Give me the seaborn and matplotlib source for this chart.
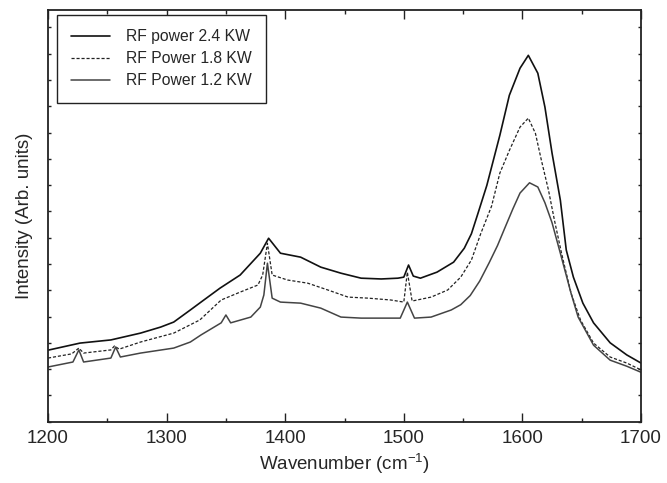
import numpy as np
import pandas as pd
import matplotlib
matplotlib.use('Agg')
import matplotlib.pyplot as plt
import seaborn as sns
from matplotlib.ticker import MultipleLocator

# Raman spectra (intensity in arbitrary units)
wn_24 = [1200, 1227, 1253, 1278, 1295, 1306, 1320, 1329, 1345, 1362, 1379, 1386,
         1396, 1413, 1430, 1447, 1464, 1481, 1495, 1500, 1504, 1508, 1514, 1528,
         1542, 1551, 1557, 1562, 1570, 1581, 1589, 1598, 1605, 1613, 1619, 1625,
         1632, 1637, 1643, 1651, 1660, 1674, 1688, 1700]
int_24 = [2.72, 2.99, 3.11, 3.37, 3.60, 3.79, 4.25, 4.55, 5.08, 5.58, 6.41, 6.98,
          6.41, 6.26, 5.88, 5.65, 5.46, 5.43, 5.46, 5.50, 5.96, 5.54, 5.46, 5.69,
          6.07, 6.60, 7.15, 7.85, 8.99, 10.90, 12.42, 13.45, 13.94, 13.26, 11.97, 10.22,
          8.43, 6.53, 5.50, 4.51, 3.76, 3.00, 2.54, 2.23]

wn_18 = [1200, 1220, 1226, 1230, 1253, 1256, 1260, 1278, 1306, 1328, 1346, 1362,
         1377, 1381, 1385, 1389, 1402, 1419, 1436, 1453, 1470, 1489, 1500, 1503,
         1507, 1523, 1537, 1548, 1557, 1565, 1574, 1581, 1589, 1598, 1605, 1611,
         1616, 1622, 1627, 1633, 1641, 1649, 1660, 1674, 1688, 1700]
int_18 = [2.42, 2.58, 2.80, 2.61, 2.73, 2.88, 2.76, 3.03, 3.37, 3.87, 4.63, 4.93,
          5.20, 5.58, 6.79, 5.58, 5.39, 5.27, 5.01, 4.74, 4.70, 4.63, 4.55, 5.69,
          4.59, 4.74, 5.01, 5.50, 6.15, 7.17, 8.20, 9.46, 10.32, 11.21, 11.55, 10.97,
          9.95, 8.81, 7.67, 6.41, 4.89, 3.87, 2.99, 2.46, 2.23, 1.97]

wn_12 = [1200, 1221, 1226, 1230, 1253, 1257, 1261, 1278, 1306, 1320, 1329, 1346,
         1350, 1354, 1371, 1379, 1382, 1385, 1389, 1396, 1413, 1430, 1447, 1464,
         1481, 1497, 1503, 1509, 1523, 1540, 1548, 1556, 1564, 1572, 1579, 1585,
         1592, 1598, 1606, 1613, 1619, 1625, 1632, 1641, 1647, 1660, 1674, 1688, 1700]
int_12 = [2.08, 2.27, 2.73, 2.27, 2.42, 2.84, 2.46, 2.61, 2.80, 3.03, 3.30, 3.76,
          4.06, 3.76, 3.98, 4.36, 4.82, 6.03, 4.70, 4.55, 4.51, 4.32, 3.98, 3.94,
          3.94, 3.94, 4.55, 3.94, 3.98, 4.25, 4.45, 4.80, 5.35, 6.05, 6.70, 7.35,
          8.10, 8.70, 9.09, 8.93, 8.33, 7.57, 6.41, 4.89, 3.98, 2.91, 2.34, 2.11, 1.88]

labels = ['RF power 2.4 KW', 'RF Power 1.8 KW', 'RF Power 1.2 KW']

sns.set_theme(style='ticks')
plt.rcParams['font.family'] = ['Liberation Sans', 'DejaVu Sans']
plt.rcParams['mathtext.fontset'] = 'custom'
plt.rcParams['mathtext.rm'] = 'Liberation Sans'

fig, ax = plt.subplots(figsize=(6.67, 4.83), dpi=100)
fig.subplots_adjust(left=0.072, right=0.961, bottom=0.127, top=0.979)

sns.lineplot(x=wn_24, y=int_24, ax=ax, color='#111111', lw=1.2, label=labels[0])
sns.lineplot(x=wn_18, y=int_18, ax=ax, color='#222222', lw=0.9,
             linestyle=(0, (2.5, 1.5)), label=labels[1])
sns.lineplot(x=wn_12, y=int_12, ax=ax, color='#444444', lw=1.1, label=labels[2])

ax.set_xlim(1200, 1700)
ax.set_ylim(0, 15.66)
ax.xaxis.set_major_locator(MultipleLocator(100))
ax.xaxis.set_minor_locator(MultipleLocator(50))
ax.yaxis.set_major_locator(MultipleLocator(1))
ax.set_yticklabels([])
ax.tick_params(axis='x', which='major', direction='in', length=6.5, width=1,
               top=True, labelsize=13.5, pad=6, color='#222222')
ax.tick_params(axis='x', which='minor', direction='in', length=3.2, width=1,
               top=True, color='#222222')
ax.tick_params(axis='y', which='major', direction='in', length=2.2, width=1,
               right=True, color='#222222')
for s in ax.spines.values():
    s.set_linewidth(1.3)
    s.set_color('#222222')

ax.set_xlabel('Wavenumber (cm$^{-1}$)', fontsize=13.5, labelpad=3)
ax.set_ylabel('Intensity (Arb. units)', fontsize=13.5, labelpad=7)

leg = ax.legend(loc='upper left', bbox_to_anchor=(9 / 593, 1 - 5 / 412),
                borderaxespad=0, fontsize=11.3, handlelength=2.5,
                handletextpad=1.0, borderpad=0.9, labelspacing=0.45,
                fancybox=False, framealpha=1, edgecolor='#222222')
leg.get_frame().set_linewidth(1.0)

fig.savefig('out.png', dpi=100)
